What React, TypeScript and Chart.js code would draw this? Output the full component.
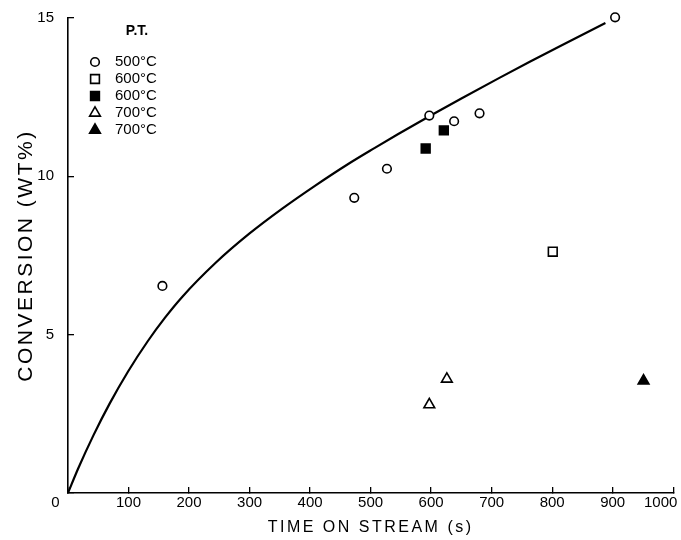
import React, { useEffect, useRef } from 'react';
import { Chart, registerables } from 'chart.js';
import { drawPoint } from 'chart.js/helpers';

Chart.register(...registerables);

// ---- data ----
const curveX = [0, 17, 42, 69, 99, 132, 160, 189, 244, 299, 354, 408, 463, 507, 545, 600, 650, 709, 763, 820, 888];
const curveY = [0, 0.78, 1.82, 2.83, 3.83, 4.8, 5.53, 6.2, 7.27, 8.18, 8.98, 9.7, 10.39, 10.9, 11.33, 11.93, 12.46, 13.07, 13.62, 14.18, 14.84];

const t500X = [156, 473, 527, 597, 638, 680, 904];
const t500Y = [6.54, 9.32, 10.24, 11.92, 11.74, 11.99, 15.02];

const t600OpenX = [801];
const t600OpenY = [7.62];

const t600FilledX = [591, 621];
const t600FilledY = [10.88, 11.45];

const t700OpenX = [597, 626];
const t700OpenY = [2.79, 3.6];

const t700FilledX = [951];
const t700FilledY = [3.54];

const seriesLabels = ['500°C', '600°C', '600°C', '700°C', '700°C'];
const legendTitle = 'P.T.';
const xTitle = 'TIME ON STREAM (s)';
const yTitle = 'CONVERSION (WT%)';
const xTickLabels = ['0', '100', '200', '300', '400', '500', '600', '700', '800', '900', '1000'];
const yTickLabels = ['', '5', '10', '15'];

const FONT = "'Liberation Sans', Arial, sans-serif";

const pts = (xs: number[], ys: number[]) => xs.map((x, i) => ({ x, y: ys[i] }));

const spacingPlugin = {
  id: 'titleSpacing',
  beforeDraw(chart: any) {
    (chart.ctx as any).letterSpacing = '2.5px';
  },
  beforeDatasetsDraw(chart: any) {
    (chart.ctx as any).letterSpacing = '0px';
  },
};

const legendPlugin = {
  id: 'ptLegend',
  afterDraw(chart: any) {
    const { ctx, chartArea } = chart;
    ctx.save();
    (ctx as any).letterSpacing = '0px';
    ctx.fillStyle = '#000';
    ctx.font = `bold 14px ${FONT}`;
    ctx.textAlign = 'center';
    ctx.textBaseline = 'middle';
    ctx.fillText(legendTitle, chartArea.left + 69, chartArea.top + 13);
    ctx.font = `15px ${FONT}`;
    ctx.textAlign = 'left';
    const ds = chart.data.datasets.filter((d: any) => !d.showLine);
    ds.forEach((d: any, k: number) => {
      const y = chartArea.top + 44 + k * 17;
      ctx.lineWidth = d.borderWidth;
      ctx.strokeStyle = d.borderColor;
      ctx.fillStyle = d.backgroundColor;
      drawPoint(ctx, { pointStyle: d.pointStyle, radius: d.pointRadius, rotation: 0, borderWidth: d.borderWidth } as any, chartArea.left + 27, y);
      ctx.fillStyle = '#000';
      ctx.fillText(d.label, chartArea.left + 47, y);
    });
    ctx.restore();
  },
};

export default function App() {
  const ref = useRef<HTMLCanvasElement>(null);

  useEffect(() => {
    if (!ref.current) return;
    const marker = (label: string, data: any[], style: string, r: number, filled: boolean) => ({
      label,
      data,
      pointStyle: style,
      pointRadius: r,
      pointHoverRadius: r,
      borderColor: '#000',
      backgroundColor: filled ? '#000' : '#fff',
      borderWidth: 1.6,
      showLine: false,
      clip: false,
      order: 0,
    });
    const chart = new Chart(ref.current, {
      type: 'scatter',
      data: {
        datasets: [
          {
            label: 'fit',
            data: pts(curveX, curveY),
            showLine: true,
            borderColor: '#000',
            borderWidth: 2.2,
            pointRadius: 0,
            cubicInterpolationMode: 'monotone',
            clip: false,
            order: 10,
          } as any,
          marker(seriesLabels[0], pts(t500X, t500Y), 'circle', 4.3, false),
          marker(seriesLabels[1], pts(t600OpenX, t600OpenY), 'rect', 6.2, false),
          marker(seriesLabels[2], pts(t600FilledX, t600FilledY), 'rect', 6.2, true),
          marker(seriesLabels[3], pts(t700OpenX, t700OpenY), 'triangle', 6.2, false),
          marker(seriesLabels[4], pts(t700FilledX, t700FilledY), 'triangle', 6.2, true),
        ],
      },
      options: {
        responsive: false,
        animation: false,
        devicePixelRatio: 1,
        layout: { padding: { top: 18, right: 4, left: 0, bottom: 0 } },
        plugins: { legend: { display: false }, tooltip: { enabled: false } },
        scales: {
          x: {
            type: 'linear',
            min: 0,
            max: 1000,
            ticks: {
              stepSize: 100,
              z: 1,
              padding: 7,
              color: '#000',
              maxRotation: 0,
              autoSkip: false,
              font: { family: FONT, size: 15 },
              callback: (v: any) => {
                const i = Math.round(Number(v) / 100);
                const s = xTickLabels[i] ?? String(v);
                if (i === 0) return s + '      ';
                if (i === 10) return s + '      ';
                return s;
              },
            },
            grid: { drawOnChartArea: false, drawTicks: true, tickLength: -6, color: '#000', lineWidth: 1.3 },
            border: { color: '#000', width: 1.6 },
            title: {
              display: true,
              text: xTitle,
              color: '#000',
              font: { family: FONT, size: 16 },
              padding: { top: 0, bottom: 3 },
            },
            afterFit: (s: any) => {
              s.height = 47;
              s.paddingLeft = 0;
              s.paddingRight = 0;
            },
          },
          y: {
            type: 'linear',
            min: 0,
            max: 15,
            ticks: {
              stepSize: 5,
              z: 1,
              padding: 20,
              color: '#000',
              font: { family: FONT, size: 15 },
              callback: (v: any) => yTickLabels[Math.round(Number(v) / 5)] ?? String(v),
            },
            grid: { drawOnChartArea: false, drawTicks: true, tickLength: -6, color: '#000', lineWidth: 1.3 },
            border: { color: '#000', width: 1.6 },
            title: {
              display: true,
              text: yTitle,
              color: '#000',
              font: { family: FONT, size: 21 },
              padding: { top: 14, bottom: 0 },
            },
            afterFit: (s: any) => {
              s.width = 68;
              s.paddingTop = 0;
              s.paddingBottom = 0;
            },
          },
        },
      } as any,
      plugins: [spacingPlugin, legendPlugin],
    });
    return () => chart.destroy();
  }, []);

  return (
    <div style={{ position: 'fixed', left: 0, top: 0, width: 681, height: 540, background: '#fff' }}>
      <canvas ref={ref} width={681} height={540} style={{ width: 681, height: 540, display: 'block' }} />
    </div>
  );
}
